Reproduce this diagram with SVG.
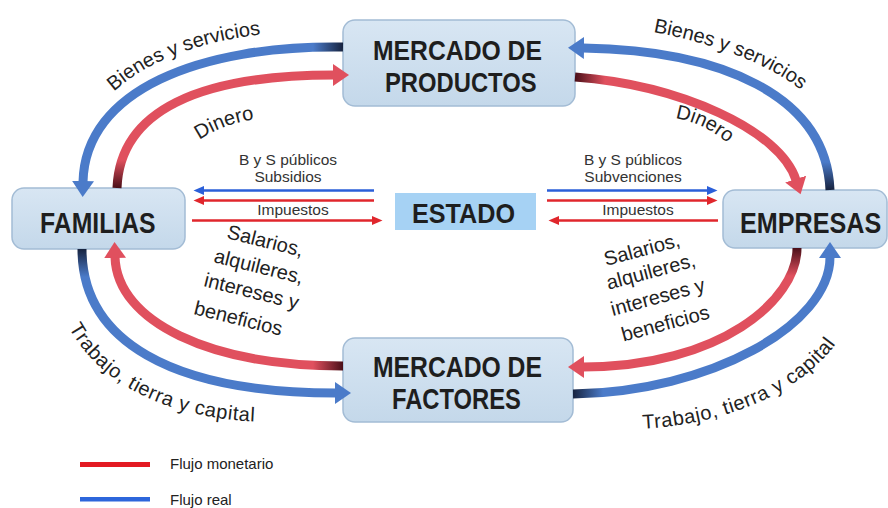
<svg xmlns="http://www.w3.org/2000/svg" width="888" height="508" viewBox="0 0 888 508">
<style>
.box{fill:url(#boxg);stroke:#a3bcd5;stroke-width:1.5}
.bt{font-family:"Liberation Sans",Arial,sans-serif;font-weight:bold;fill:#1e1e1e}
.lbl{font-family:"Liberation Sans",Arial,sans-serif;font-size:20px;fill:#222}
.sm{font-family:"Liberation Sans",Arial,sans-serif;font-size:15.5px;fill:#333}
.lg{font-family:"Liberation Sans",Arial,sans-serif;font-size:15px;fill:#222}
.flow{fill:none;stroke-width:9}
.thin{fill:none;stroke-width:2.5}
</style>
<defs>
<linearGradient id="boxg" x1="0" y1="0" x2="0" y2="1"><stop offset="0" stop-color="#d8e6f3"/><stop offset="1" stop-color="#c4d8ea"/></linearGradient>
<linearGradient id="gB1" gradientUnits="userSpaceOnUse" x1="343" y1="0" x2="313" y2="0"><stop offset="0" stop-color="#17233f"/><stop offset="1" stop-color="#4b7bc9"/></linearGradient>
<linearGradient id="gB2" gradientUnits="userSpaceOnUse" x1="0" y1="190" x2="0" y2="162"><stop offset="0" stop-color="#17233f"/><stop offset="1" stop-color="#4b7bc9"/></linearGradient>
<linearGradient id="gB3" gradientUnits="userSpaceOnUse" x1="0" y1="249" x2="0" y2="277"><stop offset="0" stop-color="#17233f"/><stop offset="1" stop-color="#4b7bc9"/></linearGradient>
<linearGradient id="gB4" gradientUnits="userSpaceOnUse" x1="573" y1="0" x2="603" y2="0"><stop offset="0" stop-color="#17233f"/><stop offset="1" stop-color="#4b7bc9"/></linearGradient>
<linearGradient id="gR1" gradientUnits="userSpaceOnUse" x1="0" y1="188" x2="0" y2="160"><stop offset="0" stop-color="#4a0f18"/><stop offset="1" stop-color="#e0505e"/></linearGradient>
<linearGradient id="gR2" gradientUnits="userSpaceOnUse" x1="575" y1="0" x2="605" y2="0"><stop offset="0" stop-color="#4a0f18"/><stop offset="1" stop-color="#e0505e"/></linearGradient>
<linearGradient id="gR3" gradientUnits="userSpaceOnUse" x1="343" y1="0" x2="313" y2="0"><stop offset="0" stop-color="#4a0f18"/><stop offset="1" stop-color="#e0505e"/></linearGradient>
<linearGradient id="gR4" gradientUnits="userSpaceOnUse" x1="0" y1="248" x2="0" y2="276"><stop offset="0" stop-color="#4a0f18"/><stop offset="1" stop-color="#e0505e"/></linearGradient>
<marker id="hB" markerUnits="userSpaceOnUse" markerWidth="17" markerHeight="24" viewBox="0 0 17 24" refX="1" refY="12" orient="auto"><path d="M0,1 L16,12 L0,23 z" fill="#4b7bc9"/></marker>
<marker id="hR" markerUnits="userSpaceOnUse" markerWidth="17" markerHeight="24" viewBox="0 0 17 24" refX="1" refY="12" orient="auto"><path d="M0,1 L16,12 L0,23 z" fill="#e0505e"/></marker>
<marker id="tB" markerUnits="userSpaceOnUse" markerWidth="11" markerHeight="10" viewBox="0 0 11 10" refX="1" refY="5" orient="auto"><path d="M0,0.5 L10.5,5 L0,9.5 z" fill="#2b5fd9"/></marker>
<marker id="tR" markerUnits="userSpaceOnUse" markerWidth="11" markerHeight="10" viewBox="0 0 11 10" refX="1" refY="5" orient="auto"><path d="M0,0.5 L10.5,5 L0,9.5 z" fill="#e0262c"/></marker>
<path id="pBSL" d="M110,95 Q163,45 266,34"/>
<path id="pBSR" d="M648,31 Q752,50 805,93"/>
<path id="pDL" d="M198,141 Q222,124 256,119"/>
<path id="pDR" d="M674,118 Q703,122 729,144"/>
<path id="pTL" d="M64,318 C95,385 170,420 266,422"/>
<path id="pTR" d="M636,429 C720,426 802,395 840,338"/>
</defs>

<g id="mercado-productos">
<rect class="box" x="343" y="20" width="232" height="86" rx="12"/>
<text class="bt" font-size="28" transform="translate(373,60) scale(0.883,1)">MERCADO DE</text>
<text class="bt" font-size="28" transform="translate(385,91.5) scale(0.85,1)">PRODUCTOS</text>
</g>
<g id="mercado-factores">
<rect class="box" x="343" y="338" width="230" height="84" rx="12"/>
<text class="bt" font-size="29" transform="translate(373,377) scale(0.853,1)">MERCADO DE</text>
<text class="bt" font-size="29" transform="translate(392,409) scale(0.82,1)">FACTORES</text>
</g>
<g id="familias">
<rect class="box" x="12" y="188" width="173" height="61" rx="12"/>
<text class="bt" font-size="30" transform="translate(40,233) scale(0.826,1)">FAMILIAS</text>
</g>
<g id="empresas">
<rect class="box" x="723" y="190" width="164" height="58" rx="12"/>
<text class="bt" font-size="30" transform="translate(740,233) scale(0.84,1)">EMPRESAS</text>
</g>
<g id="estado">
<rect x="395" y="193" width="141" height="37" fill="#a6d2f4"/>
<text class="bt" font-size="28" transform="translate(412,223) scale(0.9,1)">ESTADO</text>
</g>

<g id="connectors">
<path class="flow" stroke="url(#gB1)" marker-end="url(#hB)" d="M343,47 C200,45 85,90 83,182"/>
<path class="flow" stroke="url(#gR1)" marker-end="url(#hR)" d="M117,188 C120,110 200,75 334,75"/>
<path class="flow" stroke="url(#gB2)" marker-end="url(#hB)" d="M830,190 C826,95 720,50 583,48"/>
<path class="flow" stroke="url(#gR2)" marker-end="url(#hR)" d="M575,77 C680,85 780,130 796,180"/>
<path class="flow" stroke="url(#gR3)" marker-end="url(#hR)" d="M343,366 C210,366 117,322 115,257"/>
<path class="flow" stroke="url(#gB3)" marker-end="url(#hB)" d="M82,249 C82,340 170,393 336,393"/>
<path class="flow" stroke="url(#gR4)" marker-end="url(#hR)" d="M797,248 C797,300 720,367 583,367"/>
<path class="flow" stroke="url(#gB4)" marker-end="url(#hB)" d="M573,394 C710,392 830,325 830,257"/>
<path class="thin" stroke="#2b5fd9" marker-end="url(#tB)" d="M374,190.5 L203,190.5"/>
<path class="thin" stroke="#e0262c" marker-end="url(#tR)" d="M374,200.5 L203,200.5"/>
<path class="thin" stroke="#e0262c" marker-end="url(#tR)" d="M192,220.5 L373,220.5"/>
<path class="thin" stroke="#2b5fd9" marker-end="url(#tB)" d="M547,190.5 L708,190.5"/>
<path class="thin" stroke="#e0262c" marker-end="url(#tR)" d="M547,200.5 L708,200.5"/>
<path class="thin" stroke="#e0262c" marker-end="url(#tR)" d="M718,220.5 L558,220.5"/>
</g>

<g id="labels">
<text class="lbl"><textPath href="#pBSL" startOffset="50%" text-anchor="middle">Bienes y servicios</textPath></text>
<text class="lbl"><textPath href="#pBSR" startOffset="50%" text-anchor="middle">Bienes y servicios</textPath></text>
<text class="lbl" font-size="19"><textPath href="#pDL" startOffset="50%" text-anchor="middle">Dinero</textPath></text>
<text class="lbl" font-size="19"><textPath href="#pDR" startOffset="50%" text-anchor="middle">Dinero</textPath></text>
<text class="lbl" font-size="22" letter-spacing="0.6"><textPath href="#pTL" startOffset="50%" text-anchor="middle">Trabajo, tierra y capital</textPath></text>
<text class="lbl" font-size="22" letter-spacing="0.6"><textPath href="#pTR" startOffset="50%" text-anchor="middle">Trabajo, tierra y capital</textPath></text>
<g transform="translate(226,238) rotate(14)">
<text class="lbl" x="0" y="0">Salarios,</text>
<text class="lbl" x="-6.8" y="26.4">alquileres,</text>
<text class="lbl" x="-10.7" y="52.2">intereses y</text>
<text class="lbl" x="-13.6" y="81.7">beneficios</text>
</g>
<g transform="translate(606,266) rotate(-15)">
<text class="lbl" x="0" y="0">Salarios,</text>
<text class="lbl" x="-3.6" y="23.5">alquileres,</text>
<text class="lbl" x="-6.3" y="50">intereses y</text>
<text class="lbl" x="-2.6" y="77.5">beneficios</text>
</g>
<text class="sm" x="288" y="165" text-anchor="middle">B y S públicos</text>
<text class="sm" x="288" y="182" text-anchor="middle">Subsidios</text>
<text class="sm" x="293" y="215" text-anchor="middle">Impuestos</text>
<text class="sm" x="633" y="165" text-anchor="middle">B y S públicos</text>
<text class="sm" x="633" y="182" text-anchor="middle">Subvenciones</text>
<text class="sm" x="638" y="215" text-anchor="middle">Impuestos</text>
</g>

<g id="legend">
<rect x="80" y="462" width="70" height="5" fill="#e31a22"/>
<text class="lg" x="170" y="469">Flujo monetario</text>
<rect x="80" y="497" width="70" height="4.5" fill="#2d66db"/>
<text class="lg" x="170" y="505">Flujo real</text>
</g>
</svg>
